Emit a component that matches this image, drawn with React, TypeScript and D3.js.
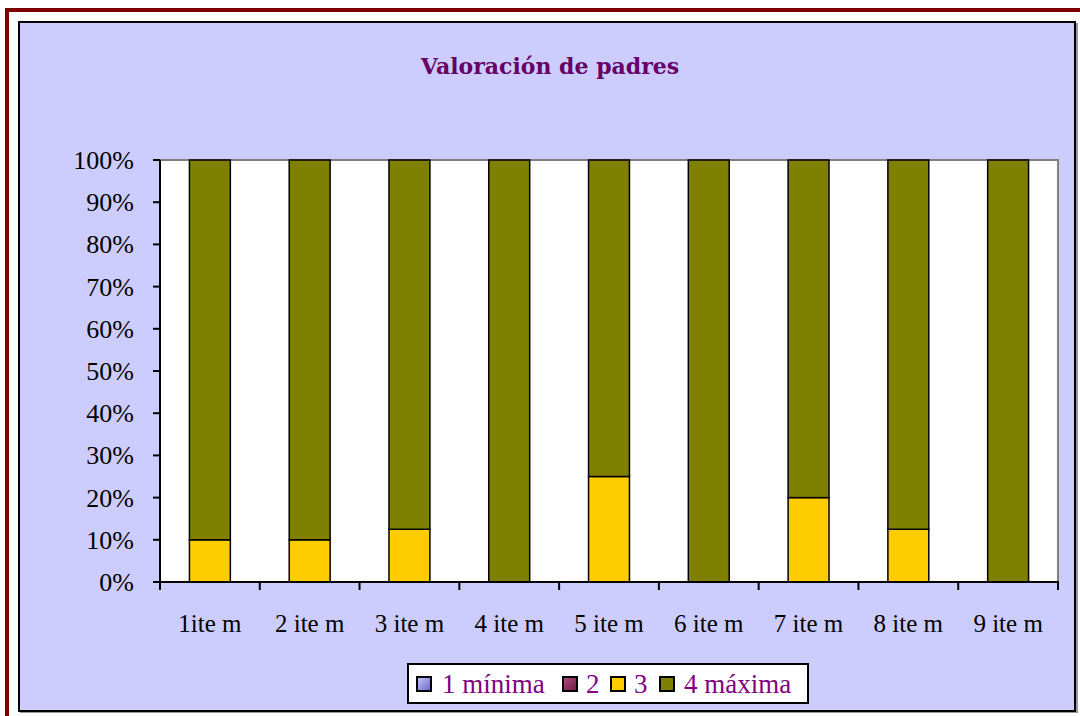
import React from "react";
import * as d3 from "d3";

const categories = ["1ite m", "2 ite m", "3 ite m", "4 ite m", "5 ite m", "6 ite m", "7 ite m", "8 ite m", "9 ite m"];
const seriesNames = ["1 mínima", "2", "3", "4 máxima"];
const seriesColors = ["#9999FF", "#993366", "#FFCC00", "#808000"];
const s1 = [0, 0, 0, 0, 0, 0, 0, 0, 0];
const s2 = [0, 0, 0, 0, 0, 0, 0, 0, 0];
const s3 = [10, 10, 12.5, 0, 25, 0, 20, 12.5, 0];
const s4 = [90, 90, 87.5, 100, 75, 100, 80, 87.5, 100];
const yTicks = [0, 10, 20, 30, 40, 50, 60, 70, 80, 90, 100];

const W = 1080, H = 716;
const plot = { left: 160, right: 1058, top: 160, bottom: 582 };

export default function App() {
  const rows = categories.map((c, i) => ({ cat: c, "1 mínima": s1[i], "2": s2[i], "3": s3[i], "4 máxima": s4[i] }));
  const stack = d3.stack<any>().keys(seriesNames)(rows);
  const x = d3.scaleBand().domain(categories).range([plot.left, plot.right]).paddingInner(0).paddingOuter(0);
  const y = d3.scaleLinear().domain([0, 100]).range([plot.bottom, plot.top]);
  const bw = x.bandwidth() * 0.41;
  const font = "'Liberation Serif', 'Times New Roman', serif";

  const legendX = [417, 563, 611, 660];
  const legendTextX = [442, 586, 634, 684];

  return (
    <svg width={W} height={H} style={{ position: "absolute", left: 0, top: 0 }}>
      <defs>
        <linearGradient id="lg1" x1="0" y1="0" x2="1" y2="1">
          <stop offset="0" stopColor="#c8c8ff" />
          <stop offset="1" stopColor="#6666cc" />
        </linearGradient>
        <linearGradient id="lg2" x1="0" y1="0" x2="1" y2="1">
          <stop offset="0" stopColor="#b34d80" />
          <stop offset="1" stopColor="#661a40" />
        </linearGradient>
      </defs>
      <rect x={0} y={0} width={W} height={H} fill="#ffffff" />
      <rect x={7} y={10} width={W + 10} height={H + 10} fill="none" stroke="#800000" strokeWidth={4} />
      <rect x={20} y={23} width={1058} height={690} fill="#999999" />
      <rect x={19} y={22} width={1056} height={689} fill="#CCCCFF" stroke="#000" strokeWidth={2} />
      <text x={550} y={74} textAnchor="middle" fontFamily="'DejaVu Serif', serif" fontWeight="bold" fontSize={22} fill="#660066">
        Valoración de padres
      </text>
      {/* plot area */}
      <rect x={plot.left} y={plot.top} width={plot.right - plot.left} height={plot.bottom - plot.top} fill="#fff" stroke="#808080" strokeWidth={2} />
      {/* bars */}
      {stack.map((layer, si) => (
        <g key={si}>
          {layer.map((d, i) => {
            const h = y(d[0]) - y(d[1]);
            if (h <= 0) return null;
            return (
              <rect key={i} x={(x(categories[i]) as number) + (x.bandwidth() - bw) / 2} y={y(d[1])} width={bw} height={h}
                fill={seriesColors[si]} stroke="#000" strokeWidth={1.5} />
            );
          })}
        </g>
      ))}
      {/* axes */}
      <line x1={plot.left} y1={plot.top} x2={plot.left} y2={plot.bottom} stroke="#000" strokeWidth={2} />
      <line x1={plot.left} y1={plot.bottom} x2={plot.right + 1} y2={plot.bottom} stroke="#000" strokeWidth={2} />
      {yTicks.map((t) => (
        <g key={t}>
          <line x1={plot.left - 7} x2={plot.left} y1={y(t)} y2={y(t)} stroke="#000" strokeWidth={2} />
          <text x={134} y={y(t) + 9} textAnchor="end" fontFamily={font} fontSize={26} fill="#000">{t}%</text>
        </g>
      ))}
      {categories.map((c, i) => (
        <line key={"t" + i} x1={x(c) as number} x2={x(c) as number} y1={plot.bottom} y2={plot.bottom + 8} stroke="#000" strokeWidth={2} />
      ))}
      <line x1={plot.right} x2={plot.right} y1={plot.bottom} y2={plot.bottom + 8} stroke="#000" strokeWidth={2} />
      {categories.map((c) => (
        <text key={c} x={(x(c) as number) + x.bandwidth() / 2} y={632} textAnchor="middle" fontFamily={font} fontSize={25} fill="#000">{c}</text>
      ))}
      {/* legend */}
      <rect x={408} y={664} width={400} height={39} fill="#fff" stroke="#000" strokeWidth={2} />
      {seriesNames.map((s, i) => (
        <g key={s}>
          <rect x={legendX[i]} y={677} width={14} height={14} fill={i === 0 ? "url(#lg1)" : i === 1 ? "url(#lg2)" : seriesColors[i]} stroke="#000" strokeWidth={2} />
          <text x={legendTextX[i]} y={693} fontFamily={font} fontSize={27} fill="#800080">{s}</text>
        </g>
      ))}
    </svg>
  );
}
